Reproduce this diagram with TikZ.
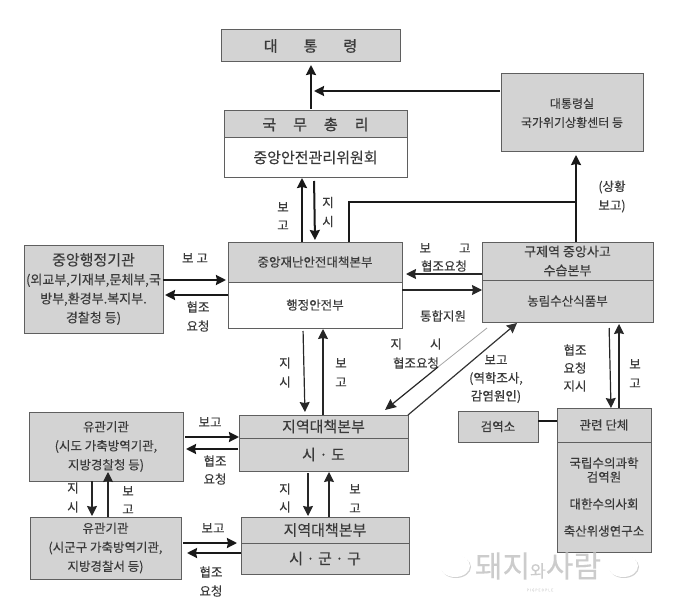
\documentclass[tikz,border=0pt]{standalone}
\usepackage{fontspec}
\setmainfont{Noto Sans CJK KR}[FakeBold=0.25,BoldFont={Noto Sans CJK KR},BoldFeatures={FakeBold=0.9}]
\usetikzlibrary{arrows.meta,calc}
\definecolor{boxgray}{HTML}{D3D3D3}
\definecolor{edgegray}{HTML}{5F5F5F}
\definecolor{inkgray}{HTML}{3A3A3A}
\tikzset{
  base/.style={inner sep=0pt,outer sep=0pt,text=inkgray,align=center},
  boxg/.style={base,draw=edgegray,line width=1pt,fill=boxgray},
  boxw/.style={base,draw=edgegray,line width=1pt,fill=white},
  lbl/.style={base,font=\fontsize{12.5}{15}\selectfont},
  big/.style={font=\fontsize{15}{19}\selectfont},
  mid/.style={font=\fontsize{13}{19}\selectfont},
  sml/.style={font=\fontsize{12.5}{19}\selectfont},
  thickarr/.style={line width=2pt,draw=black!90,-{Stealth[length=10pt,width=10pt,inset=1pt]}},
  thinarr/.style={line width=1.2pt,draw=black!85,-{Stealth[length=10pt,width=10pt,inset=1pt]}},
  wm/.style={inner sep=0pt,outer sep=0pt}
}
\begin{document}
\begin{tikzpicture}[x=1pt,y=-1pt]
\useasboundingbox (0,0) rectangle (680,615);
% boxes
\node[boxg,minimum width=179pt,minimum height=32pt,font=\bfseries\fontsize{15}{19}\selectfont] (pres) at (310.5,46) {대\hspace{26pt}통\hspace{26pt}령};
\node[boxg,minimum width=183pt,minimum height=27pt,font=\bfseries\fontsize{15}{19}\selectfont] (pmT) at (315.5,124.5) {국\hspace{17pt}무\hspace{17pt}총\hspace{17pt}리};
\node[boxw,minimum width=183pt,minimum height=39pt,big] (pmB) at (315.5,157.5) {중앙안전관리위원회};
\node[boxg,minimum width=142pt,minimum height=78pt,font=\fontsize{12}{19}\selectfont] (blue) at (572,113) {대통령실\\국가위기상황센터 등};
\node[boxg,minimum width=139pt,minimum height=88pt,mid] (cent) at (93.5,289) {{\fontsize{15}{19}\selectfont 중앙행정기관}\\(외교부,기재부,문체부,국\\방부,환경부.복지부.\\경찰청 등)};
\node[boxg,minimum width=174pt,minimum height=40pt,sml] (hqT) at (315,262) {중앙재난안전대책본부};
\node[boxw,minimum width=174pt,minimum height=46pt,sml] (hqB) at (315,305) {행정안전부};
\node[boxg,minimum width=171pt,minimum height=38pt,mid] (fmT) at (567.5,261) {구제역 중앙사고\\수습본부};
\node[boxg,minimum width=171pt,minimum height=42pt,sml] (fmB) at (567.5,301) {농림수산식품부};
\node[boxg,minimum width=154pt,minimum height=69pt,sml] (orgA) at (106,446.5) {유관기관\\(시도 가축방역기관,\\지방경찰청 등)};
\node[boxg,minimum width=151pt,minimum height=62pt,sml] (orgB) at (105.5,548) {유관기관\\(시군구 가축방역기관,\\지방경찰서 등)};
\node[boxg,minimum width=169pt,minimum height=23pt,font=\fontsize{15}{19}\selectfont] (regAT) at (323.5,426.5) {지역대책본부};
\node[boxg,minimum width=169pt,minimum height=33pt,font=\fontsize{15}{19}\selectfont] (regAB) at (323.5,454.5) {시 · 도};
\node[boxg,minimum width=168pt,minimum height=26pt,font=\fontsize{15}{19}\selectfont] (regBT) at (325,530) {지역대책본부};
\node[boxg,minimum width=168pt,minimum height=31pt,font=\fontsize{15}{19}\selectfont] (regBB) at (325,558.5) {시 · 군 · 구};
\node[boxg,minimum width=80pt,minimum height=31pt,sml] (quar) at (498,426.5) {검역소};
\node[boxg,minimum width=94pt,minimum height=34pt,sml] (relT) at (604,425) {관련 단체};
\node[boxg,minimum width=94pt,minimum height=110pt,font=\fontsize{12.5}{14}\selectfont] (relB) at (604,497) {국립수의과학\\검역원\\[13pt]대한수의사회\\[13pt]축산위생연구소};
% labels
\node[lbl,font=\fontsize{12.5}{18}\selectfont] (l01) at (283,216) {보\\고};
\node[lbl,font=\fontsize{12.5}{19}\selectfont] (l02) at (328,212) {지\\시};
\node[lbl,font=\fontsize{12.5}{19}\selectfont] (l03) at (612,196.5) {(상황\\보고)};
\node[lbl] (l04) at (195,258) {보 고};
\node[lbl,font=\fontsize{12.5}{19}\selectfont] (l05) at (198,316.5) {협조\\요청};
\node[lbl] (l06) at (445,248) {보\hspace{28pt}고};
\node[lbl] (l07) at (444,266) {협조요청};
\node[lbl] (l08) at (443,316) {통합지원};
\node[lbl] (l09) at (416,344) {지\hspace{28pt}시};
\node[lbl] (l10) at (416,363) {협조요청};
\node[lbl,font=\fontsize{12.5}{18}\selectfont] (l11) at (496,379) {보고\\(역학조사,\\감염원인)};
\node[lbl,font=\fontsize{12.5}{18}\selectfont] (l12) at (575,368) {협조\\요청\\지시};
\node[lbl,font=\fontsize{12.5}{19}\selectfont] (l13) at (635,373.5) {보\\고};
\node[lbl,font=\fontsize{12.5}{19}\selectfont] (l14) at (285,372.5) {지\\시};
\node[lbl,font=\fontsize{12.5}{19}\selectfont] (l15) at (341,372.5) {보\\고};
\node[lbl] (l16) at (210,422) {보고};
\node[lbl,font=\fontsize{12.5}{18}\selectfont] (l17) at (215,470) {협조\\요청};
\node[lbl,font=\fontsize{12.5}{18}\selectfont] (l18) at (285,498) {지\\시};
\node[lbl,font=\fontsize{12.5}{19}\selectfont] (l19) at (355,498.5) {보\\고};
\node[lbl,font=\fontsize{12.5}{19}\selectfont] (l20) at (73,497.5) {지\\시};
\node[lbl,font=\fontsize{12.5}{18}\selectfont] (l21) at (128,500) {보\\고};
\node[lbl] (l22) at (213,528) {보고};
\node[lbl,font=\fontsize{12.5}{19}\selectfont] (l23) at (211,581.5) {협조\\요청};
% connectors
\draw[thickarr,shorten <=2pt,shorten >=3pt] (311,0 |- pmT.north) -- (311,0 |- pres.south);
\draw[thickarr,shorten <=1pt] (blue.west |- 0,91) -- (314,91);
\draw[thickarr,shorten >=1pt] (302,0 |- hqT.north) -- (302,0 |- pmB.south);
\draw[thickarr,shorten <=4pt,shorten >=2pt] (314,0 |- pmB.south) -- (315,0 |- hqT.north);
\coordinate (jn) at (576,202);
\draw[line width=2pt,draw=black!90] (349,0 |- hqT.north) -- (349,202) -- (jn);
\draw[thickarr,shorten >=3pt] (576,0 |- fmT.north) -- (576,0 |- blue.south);
\draw[thickarr,shorten >=2pt] (cent.east |- 0,280) -- (hqT.west |- 0,280);
\draw[thickarr,shorten >=2pt] (hqB.west |- 0,295) -- (cent.east |- 0,295);
\draw[thinarr,shorten >=4pt] (fmT.west |- 0,274) -- (hqT.east |- 0,274);
\draw[thinarr] (hqB.east |- 0,290) -- (fmB.west |- 0,290);
\draw[thinarr,shorten <=3pt,shorten >=3pt] (303,0 |- hqB.south) -- (305,0 |- regAT.north);
\draw[thinarr,shorten >=1pt] (323,0 |- regAT.north) -- (323,0 |- hqB.south);
\coordinate (diagTip) at ($(fmB.south west)+(35,1)$);
\draw[line width=1.2pt,draw=black!80,-{Stealth[length=10pt,width=10pt,inset=1pt]}] (regAT.north east) -- (diagTip);
\coordinate (diagS) at ($(fmB.south west)+(5,6)$);
\coordinate (diagM) at (438,367);
\coordinate (diagE) at (385,410);
\draw[line width=.8pt,draw=black!35] (diagS) -- (diagM);
\draw[line width=1.2pt,draw=black!85,-{Stealth[length=11pt,width=10pt,inset=1pt]}] (diagM) -- (diagE);
\draw[thinarr,shorten <=6pt] (609,0 |- fmB.south) -- (611,0 |- relT.north);
\draw[thinarr,shorten >=2pt] (619,0 |- relT.north) -- (619,0 |- fmB.south);
\draw[thickarr,shorten <=2pt] (orgA.east |- 0,437) -- (regAT.west |- 0,437);
\draw[thickarr,shorten >=3pt,shorten <=1pt] (regAB.west |- 0,449) -- (orgA.east |- 0,449);
\draw[thinarr,shorten <=2pt,shorten >=1pt] (308,0 |- regAB.south) -- (308,0 |- regBT.north);
\draw[thinarr,shorten >=1pt] (329,0 |- regBT.north) -- (329,0 |- regAB.south);
\draw[thinarr,shorten >=1pt] (92,0 |- orgA.south) -- (92,0 |- orgB.north);
\draw[thinarr,shorten >=-9pt] (108,0 |- orgB.north) -- (108,0 |- orgA.south);
\draw[thickarr,shorten <=2pt,shorten >=4pt] (orgB.east |- 0,543) -- (regBT.west |- 0,543);
\draw[thickarr,shorten >=6pt] (regBB.west |- 0,553) -- (orgB.east |- 0,553);
\draw[line width=2pt,draw=black!90] (quar.east |- 0,421) -- (relT.west |- 0,421);
% watermark
\fill[black!18] (456,567) ellipse (15 and 11);
\fill[black!18] (624,567) ellipse (15 and 11);
\fill[white] (455,566) ellipse (15 and 11);
\fill[white] (442,556) -- (449,560) -- (444,565) -- cycle;
\fill[white] (468,556) -- (461,560) -- (466,565) -- cycle;
\fill[white] (623,566) ellipse (15 and 11);
\fill[white] (610,556) -- (617,560) -- (612,565) -- cycle;
\fill[white] (636,556) -- (629,560) -- (634,565) -- cycle;
\node[wm,text=black!20] (wmT) at (538,566) {\fontsize{30}{30}\selectfont 돼지\fontsize{17}{17}\selectfont 와\fontsize{30}{30}\selectfont 사람};
\node[wm,text=black!12] (wmP) at (540,590) {\fontsize{4}{4}\selectfont P\,I\,G\,P\,E\,O\,P\,L\,E};
\end{tikzpicture}
\end{document}
